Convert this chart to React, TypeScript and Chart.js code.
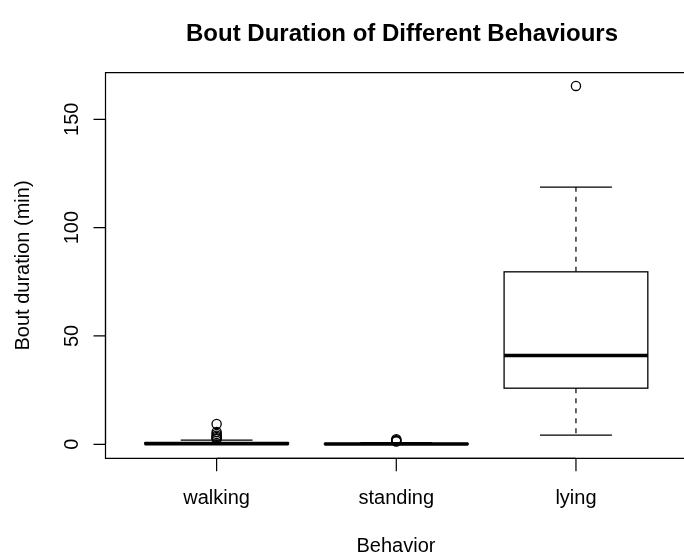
import React, { useEffect, useRef } from "react";
import { Chart, registerables } from "chart.js";

Chart.register(...registerables);

const categories = ["walking", "standing", "lying"];
const whiskerLow = [0, 0, 4.2];
const q1 = [0.1, 0.05, 25.9];
const median = [0.3, 0.15, 41.0];
const q3 = [0.7, 0.35, 79.6];
const whiskerHigh = [1.9, 0.8, 118.7];
const walkingOutliers = [9.4, 5.7, 4.8, 4.0, 3.4, 2.8, 2.4];
const standingOutliers = [2.3, 1.9, 1.6, 1.3];
const lyingOutliers = [165.4];
const yTicks = [0, 50, 100, 150];

const title = "Bout Duration of Different Behaviours";
const xTitle = "Behavior";
const yTitle = "Bout duration (min)";

const FONT = "'Liberation Sans', Arial, Helvetica, sans-serif";

const boxPlugin = {
  id: "rbox",
  beforeDatasetsDraw(chart: any) {
    const ctx = chart.ctx;
    const xs = chart.scales.x;
    const ys = chart.scales.y;
    ctx.save();
    ctx.strokeStyle = "#000";
    for (let i = 0; i < categories.length; i++) {
      const c = i + 1;
      const xc = xs.getPixelForValue(c);
      const xl = xs.getPixelForValue(c - 0.4);
      const xr = xs.getPixelForValue(c + 0.4);
      const cl = xs.getPixelForValue(c - 0.2);
      const cr = xs.getPixelForValue(c + 0.2);
      const yLo = ys.getPixelForValue(whiskerLow[i]);
      const yQ1 = ys.getPixelForValue(q1[i]);
      const yMed = ys.getPixelForValue(median[i]);
      const yQ3 = ys.getPixelForValue(q3[i]);
      const yHi = ys.getPixelForValue(whiskerHigh[i]);
      ctx.lineWidth = 1.2;
      ctx.setLineDash([5, 5]);
      ctx.beginPath();
      ctx.moveTo(xc, yQ1);
      ctx.lineTo(xc, yLo);
      ctx.moveTo(xc, yQ3);
      ctx.lineTo(xc, yHi);
      ctx.stroke();
      ctx.setLineDash([]);
      ctx.beginPath();
      ctx.moveTo(cl, yLo);
      ctx.lineTo(cr, yLo);
      ctx.moveTo(cl, yHi);
      ctx.lineTo(cr, yHi);
      ctx.stroke();
      ctx.fillStyle = "#fff";
      ctx.fillRect(xl, yQ3, xr - xl, yQ1 - yQ3);
      ctx.lineWidth = 1.3;
      ctx.strokeRect(xl, yQ3, xr - xl, yQ1 - yQ3);
      ctx.lineWidth = 3.6;
      ctx.beginPath();
      ctx.moveTo(xl, yMed);
      ctx.lineTo(xr, yMed);
      ctx.stroke();
    }
    ctx.restore();
  },
  afterDraw(chart: any) {
    const ctx = chart.ctx;
    const xs = chart.scales.x;
    const ys = chart.scales.y;
    const a = chart.chartArea;
    ctx.save();
    ctx.strokeStyle = "#000";
    ctx.fillStyle = "#000";
    ctx.lineWidth = 1.2;
    ctx.beginPath();
    ctx.moveTo(chart.width + 10, a.top);
    ctx.lineTo(a.left, a.top);
    ctx.lineTo(a.left, a.bottom);
    ctx.lineTo(chart.width + 10, a.bottom);
    ctx.stroke();
    ctx.beginPath();
    const y0 = ys.getPixelForValue(yTicks[0]);
    const y1 = ys.getPixelForValue(yTicks[yTicks.length - 1]);
    ctx.moveTo(a.left, y0);
    ctx.lineTo(a.left, y1);
    for (const t of yTicks) {
      const y = ys.getPixelForValue(t);
      ctx.moveTo(a.left, y);
      ctx.lineTo(a.left - 12, y);
    }
    const x0 = xs.getPixelForValue(1);
    const x1 = xs.getPixelForValue(categories.length);
    ctx.moveTo(x0, a.bottom);
    ctx.lineTo(x1, a.bottom);
    for (let i = 0; i < categories.length; i++) {
      const x = xs.getPixelForValue(i + 1);
      ctx.moveTo(x, a.bottom);
      ctx.lineTo(x, a.bottom + 13);
    }
    ctx.stroke();
    ctx.font = `20px ${FONT}`;
    ctx.textAlign = "center";
    ctx.textBaseline = "alphabetic";
    for (const t of yTicks) {
      const y = ys.getPixelForValue(t);
      ctx.save();
      ctx.translate(78, y);
      ctx.rotate(-Math.PI / 2);
      ctx.fillText(String(t), 0, 0);
      ctx.restore();
    }
    for (let i = 0; i < categories.length; i++) {
      const x = xs.getPixelForValue(i + 1);
      ctx.fillText(categories[i], x, 503.5);
    }
    ctx.fillText(xTitle, 396, 552);
    ctx.save();
    ctx.translate(29, (a.top + a.bottom) / 2);
    ctx.rotate(-Math.PI / 2);
    ctx.fillText(yTitle, 0, 0);
    ctx.restore();
    ctx.font = `bold 24px ${FONT}`;
    ctx.fillText(title, 402, 41);
    ctx.restore();
  },
};

export default function App() {
  const ref = useRef<HTMLCanvasElement | null>(null);
  useEffect(() => {
    document.body.style.margin = "0";
    document.body.style.overflow = "hidden";
    const outlierPoints: { x: number; y: number }[] = [];
    walkingOutliers.forEach((v) => outlierPoints.push({ x: 1, y: v }));
    standingOutliers.forEach((v) => outlierPoints.push({ x: 2, y: v }));
    lyingOutliers.forEach((v) => outlierPoints.push({ x: 3, y: v }));
    const chart = new Chart(ref.current as HTMLCanvasElement, {
      type: "scatter",
      data: {
        datasets: [
          {
            data: outlierPoints,
            pointStyle: "circle",
            pointRadius: 4.6,
            pointBackgroundColor: "rgba(0,0,0,0)",
            pointBorderColor: "#000",
            pointBorderWidth: 1.3,
          },
        ],
      },
      options: {
        responsive: false,
        animation: false,
        events: [],
        layout: { padding: { left: 105.5, right: 0, top: 72.7, bottom: 95.7 } },
        plugins: { legend: { display: false }, tooltip: { enabled: false } },
        scales: {
          x: { type: "linear", min: 0.3815, max: 3.5685, display: false },
          y: { type: "linear", min: -6.46, max: 171.5, display: false },
        },
      },
      plugins: [boxPlugin],
    });
    return () => chart.destroy();
  }, []);
  return <canvas ref={ref} width={684} height={554} style={{ display: "block" }} />;
}
